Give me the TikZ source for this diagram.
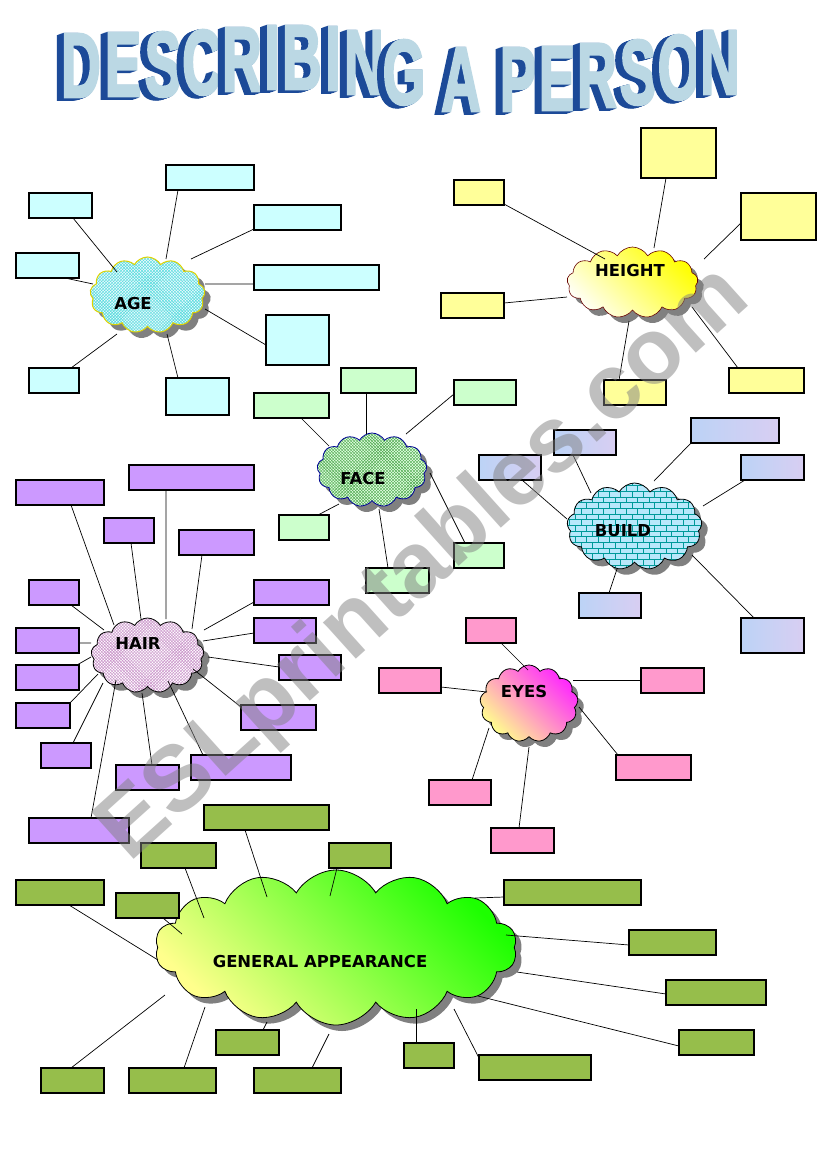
\documentclass[tikz,border=0pt]{standalone}
\usepackage{fontspec}
\setmainfont{DejaVu Sans}
\newfontfamily\titlefont[FakeBold=3]{Liberation Sans}
\newfontfamily\wmfont{Liberation Sans}
\usetikzlibrary{shapes.symbols,shadows,patterns,calc}
\definecolor{agebox}{HTML}{CCFFFF}
\definecolor{hbox}{HTML}{FFFF99}
\definecolor{fbox}{HTML}{CCFFCC}
\definecolor{hairbox}{HTML}{CC99FF}
\definecolor{eyebox}{HTML}{FF99CC}
\definecolor{genbox}{HTML}{96BE4B}
\definecolor{bldA}{HTML}{BCD3F6}
\definecolor{bldB}{HTML}{D8CEF2}
\definecolor{tdark}{HTML}{1C4A98}
\definecolor{tface}{HTML}{BBD8E4}
\tikzset{
  box/.style={draw=black, line width=1.1bp, inner sep=0pt, outer sep=0pt},
  agecol/.style={fill=agebox}, hcol/.style={fill=hbox}, fcol/.style={fill=fbox},
  haircol/.style={fill=hairbox}, eyecol/.style={fill=eyebox}, gencol/.style={fill=genbox},
  bldcol/.style={left color=bldA, right color=bldB},
  conn/.style={draw=black, line width=0.7bp},
  cl/.style={cloud, cloud puffs=13, cloud puff arc=120, cloud ignores aspect,
    inner sep=0pt, outer sep=0pt,
    drop shadow={shadow xshift=6bp, shadow yshift=-6bp, fill=black!50, opacity=1}},
  cltext/.style={font=\fontsize{16.5}{18}\selectfont\bfseries, text=black, inner sep=0pt},
  tlet/.style={font=\titlefont\bfseries\fontsize{92}{92}\selectfont, inner sep=0pt, anchor=base},
  wm/.style={font=\wmfont\bfseries\fontsize{93}{93}\selectfont, text=black!50, text opacity=0.5, inner sep=0pt},
}
\newcommand\bx[6]{\node[box,#6,minimum width={#4bp-#2bp},minimum height={#5bp-#3bp}] (#1) at ({(#2+#4)/2},{(#3+#5)/2}) {};}
\newcommand\lk[4]{\draw[conn] ([shift={(#2)}]#1.center) -- ([shift={(#4)}]#3.center);}
\newcommand\tl[4]{%
  \foreach \k in {7,6,...,1}{\node[tlet,text=tdark] (#1s\k) at ({#2-\k*1.0},{#3+\k*0.35}) {\scalebox{0.6}[1]{#4}};}
  \node[tlet,text=tface] (#1) at (#2,#3) {\scalebox{0.6}[1]{#4}};}
\begin{document}
\begin{tikzpicture}[x=1bp,y=-1bp]
\useasboundingbox (0,0) rectangle (821,1169);
\fill[white] (0,0) rectangle (821,1169);

% ---------- title ----------
\tl{t1}{81}{97}{D}
\tl{t2}{123}{96}{E}
\tl{t3}{163}{96}{S}
\tl{t4}{202}{94}{C}
\tl{t5}{242}{91}{R}
\tl{t6}{272}{89}{I}
\tl{t7}{302}{89}{B}
\tl{t8}{333}{90}{I}
\tl{t9}{364}{94}{N}
\tl{t10}{404}{104}{G}
\tl{t11}{461}{111}{A}
\tl{t12}{518}{111}{P}
\tl{t13}{557}{110}{E}
\tl{t14}{597}{107}{R}
\tl{t15}{638}{104}{S}
\tl{t16}{679}{99}{O}
\tl{t17}{720}{94}{N}

% ---------- clouds ----------
\node[cl, draw=yellow!70!olive, line width=1bp, preaction={fill=cyan!8}, pattern=crosshatch, pattern color=cyan!60!teal!70,
  minimum width=115bp, minimum height=76bp,
  label={[cltext,xshift=-14.5bp,yshift=-9bp]center:AGE}] (age) at (147.5,295) {};
\node[cl, draw=red!40!black, line width=0.6bp, bottom color=yellow!4, top color=yellow, shading angle=-45,
  minimum width=131bp, minimum height=71bp,
  label={[cltext,xshift=-2.5bp,yshift=11.5bp]center:HEIGHT}] (height) at (632.5,282.5) {};
\node[cl, draw=blue!60!black, line width=0.8bp, preaction={fill=green!12}, pattern=crosshatch, pattern color=green!50!black!70,
  minimum width=110bp, minimum height=74bp,
  label={[cltext,xshift=-9bp,yshift=-9bp]center:FACE}] (face) at (372,470) {};
\node[cl, draw=black, line width=0.8bp, preaction={fill=cyan!28}, pattern=bricks, pattern color=teal!80!cyan,
  minimum width=135bp, minimum height=87bp,
  label={[cltext,xshift=-11.5bp,yshift=-4.5bp]center:BUILD}] (build) at (634.5,526.5) {};
\node[cl, draw=black, line width=0.8bp, preaction={fill=white}, pattern=crosshatch, pattern color=violet!45,
  minimum width=113bp, minimum height=75bp,
  label={[cltext,xshift=-9.5bp,yshift=12.5bp]center:HAIR}] (hair) at (147.5,655.5) {};
\node[cl, draw=black, line width=0.8bp, bottom color=yellow!45, top color=magenta!85, shading angle=-45,
  minimum width=98bp, minimum height=77bp,
  label={[cltext,xshift=-5bp,yshift=11.5bp]center:EYES}] (eyes) at (529,703.5) {};
\node[cl, draw=black, line width=0.8bp, bottom color=yellow!45, top color=green!85!lime, shading angle=-45,
  cloud puffs=14, minimum width=362bp, minimum height=155bp,
  label={[cltext,xshift=-16bp,yshift=-14.5bp]center:GENERAL APPEARANCE}] (gen) at (336,947.5) {};

% ---------- AGE ----------
\bx{a1}{29}{193}{92}{218}{agecol}
\bx{a2}{166}{165}{254}{190}{agecol}
\bx{a3}{254}{205}{341}{230}{agecol}
\bx{a4}{16}{253}{79}{278}{agecol}
\bx{a5}{254}{265}{379}{290}{agecol}
\bx{a6}{266}{315}{329}{365}{agecol}
\bx{a7}{29}{368}{79}{393}{agecol}
\bx{a8}{166}{378}{229}{415}{agecol}
\lk{a1}{12.5,12.5}{age}{-30.5,-23}
\lk{a2}{-32,12.5}{age}{18.5,-36}
\lk{a3}{-43.5,11.5}{age}{43.5,-36}
\lk{a4}{17.5,12.5}{age}{-54.5,-11}
\lk{a5}{-62.5,6.5}{age}{57.5,-11}
\lk{a6}{-31.5,5}{age}{57.5,14}
\lk{a7}{17,-12.5}{age}{-30.5,39}
\lk{a8}{-19.5,-18.5}{age}{19.5,39}

% ---------- HEIGHT ----------
\bx{h1}{454}{180}{504}{205}{hcol}
\bx{h2}{641}{128}{716}{178}{hcol}
\bx{h3}{741}{193}{816}{240}{hcol}
\bx{h4}{441}{293}{504}{318}{hcol}
\bx{h5}{604}{380}{666}{405}{hcol}
\bx{h6}{729}{368}{804}{393}{hcol}
\lk{h1}{25,11.5}{height}{-27.5,-23.5}
\lk{h2}{-12.5,25}{height}{21.5,-34.5}
\lk{h3}{-37.5,6.5}{height}{71.5,-23.5}
\lk{h4}{31.5,-2.5}{height}{-65.5,14.5}
\lk{h5}{-16,-12.5}{height}{-3.5,38.5}
\lk{h6}{-28.5,-12.5}{height}{59.5,24.5}

% ---------- FACE ----------
\bx{f1}{254}{393}{329}{418}{fcol}
\bx{f2}{341}{368}{416}{393}{fcol}
\bx{f3}{454}{380}{516}{405}{fcol}
\bx{f4}{279}{515}{329}{540}{fcol}
\bx{f5}{366}{568}{429}{593}{fcol}
\bx{f6}{454}{543}{504}{568}{fcol}
\lk{f1}{9.5,12.5}{face}{-43,-24}
\lk{f2}{-12.5,12.5}{face}{-6,-36}
\lk{f3}{-31,1.5}{face}{34,-36}
\lk{f4}{14,-12.5}{face}{-33,34}
\lk{f5}{-9.5,-12.5}{face}{7,39}
\lk{f6}{-14,-12.5}{face}{58,3}

% ---------- BUILD ----------
\bx{b1}{479}{455}{541}{480}{bldcol}
\bx{b2}{554}{430}{616}{455}{bldcol}
\bx{b3}{691}{418}{779}{443}{bldcol}
\bx{b4}{741}{455}{804}{480}{bldcol}
\bx{b5}{579}{593}{641}{618}{bldcol}
\bx{b6}{741}{618}{804}{653}{bldcol}
\lk{b1}{12,12.5}{build}{-67.5,-7.5}
\lk{b2}{-12,12.5}{build}{-43.5,-33.5}
\lk{b3}{-44,12.5}{build}{19.5,-45.5}
\lk{b4}{-27.5,12.5}{build}{68.5,-20.5}
\lk{b5}{-1,-12.5}{build}{-17.5,42.5}
\lk{b6}{-18.5,-17.5}{build}{57.5,28.5}

% ---------- HAIR ----------
\bx{r1}{16}{480}{104}{505}{haircol}
\bx{r2}{129}{465}{254}{490}{haircol}
\bx{r3}{104}{518}{154}{543}{haircol}
\bx{r4}{179}{530}{254}{555}{haircol}
\bx{r5}{29}{580}{79}{605}{haircol}
\bx{r6}{16}{628}{79}{653}{haircol}
\bx{r7}{16}{665}{79}{690}{haircol}
\bx{r8}{16}{703}{70}{728}{haircol}
\bx{r9}{41}{743}{91}{768}{haircol}
\bx{r10}{116}{765}{179}{790}{haircol}
\bx{r11}{191}{755}{291}{780}{haircol}
\bx{r12}{29}{818}{129}{843}{haircol}
\bx{r13}{254}{580}{329}{605}{haircol}
\bx{r14}{254}{618}{316}{643}{haircol}
\bx{r15}{279}{655}{341}{680}{haircol}
\bx{r16}{241}{705}{316}{730}{haircol}
\lk{r1}{11,12.5}{hair}{-33.5,-30.5}
\lk{r2}{-25.5,12.5}{hair}{18.5,-36.5}
\lk{r3}{2,12.5}{hair}{-6.5,-36.5}
\lk{r4}{-14.5,12.5}{hair}{44.5,-26.5}
\lk{r5}{17,12.5}{hair}{-43.5,-25.5}
\lk{r6}{31.5,2.5}{hair}{-56.5,-12.5}
\lk{r7}{29.5,-12.5}{hair}{-56.5,1.5}
\lk{r8}{27,-12.5}{hair}{-49.5,18.5}
\lk{r9}{7,-12.5}{hair}{-44.5,27.5}
\lk{r10}{4.5,-12.5}{hair}{-5.5,37.5}
\lk{r11}{-38,-12.5}{hair}{20.5,25.5}
\lk{r12}{12,-12.5}{hair}{-31.5,24.5}
\lk{r13}{-37.5,9.5}{hair}{56.5,-25.5}
\lk{r14}{-31,2.5}{hair}{55.5,-14.5}
\lk{r15}{-31,-0.5}{hair}{60.5,1.5}
\lk{r16}{-37.5,-10.5}{hair}{45.5,13.5}

% ---------- EYES ----------
\bx{e1}{466}{618}{516}{643}{eyecol}
\bx{e2}{379}{668}{441}{693}{eyecol}
\bx{e3}{641}{668}{704}{693}{eyecol}
\bx{e4}{616}{755}{691}{780}{eyecol}
\bx{e5}{429}{780}{491}{805}{eyecol}
\bx{e6}{491}{828}{554}{853}{eyecol}
\lk{e1}{10,12.5}{eyes}{-1,-33.5}
\lk{e2}{31,6.5}{eyes}{-42,-11.5}
\lk{e3}{-31.5,-0.5}{eyes}{44,-23.5}
\lk{e4}{-35.5,-12.5}{eyes}{50,3.5}
\lk{e5}{12,-12.5}{eyes}{-40,24.5}
\lk{e6}{-3.5,-12.5}{eyes}{0,43.5}

% ---------- GENERAL APPEARANCE ----------
\bx{g1}{204}{805}{329}{830}{gencol}
\bx{g2}{141}{843}{216}{868}{gencol}
\bx{g3}{329}{843}{391}{868}{gencol}
\bx{g4}{16}{880}{104}{905}{gencol}
\bx{g5}{116}{893}{179}{918}{gencol}
\bx{g6}{216}{1030}{279}{1055}{gencol}
\bx{g7}{41}{1068}{104}{1093}{gencol}
\bx{g8}{129}{1068}{216}{1093}{gencol}
\bx{g9}{254}{1068}{341}{1093}{gencol}
\bx{g10}{504}{880}{641}{905}{gencol}
\bx{g11}{629}{930}{716}{955}{gencol}
\bx{g12}{666}{980}{766}{1005}{gencol}
\bx{g13}{679}{1030}{754}{1055}{gencol}
\bx{g14}{404}{1043}{454}{1068}{gencol}
\bx{g15}{479}{1055}{591}{1080}{gencol}
\lk{g1}{-21.5,12.5}{gen}{-69,-50.5}
\lk{g2}{6.5,12.5}{gen}{-132,-29.5}
\lk{g3}{-23,12.5}{gen}{-6,-51.5}
\lk{g4}{9,12.5}{gen}{-178,12.5}
\lk{g5}{15.5,12.5}{gen}{-154,-13.5}
\lk{g6}{15.5,-12.5}{gen}{-69,74.5}
\lk{g7}{-1.5,-12.5}{gen}{-171,47.5}
\lk{g8}{11.5,-12.5}{gen}{-131,59.5}
\lk{g9}{14.5,-12.5}{gen}{-7,86.5}
\lk{g10}{-68.5,4.5}{gen}{139,-49.5}
\lk{g11}{-43.5,2.5}{gen}{170,-12.5}
\lk{g12}{-50,1.5}{gen}{181,24.5}
\lk{g13}{-37.5,3.5}{gen}{142,48.5}
\lk{g14}{-13,-12.5}{gen}{80,61.5}
\lk{g15}{-56,-9.5}{gen}{118,61.5}

% ---------- watermark ----------
\node[wm, rotate=42] (wmark) at (425,565) {ESLprintables.com};
\end{tikzpicture}
\end{document}
